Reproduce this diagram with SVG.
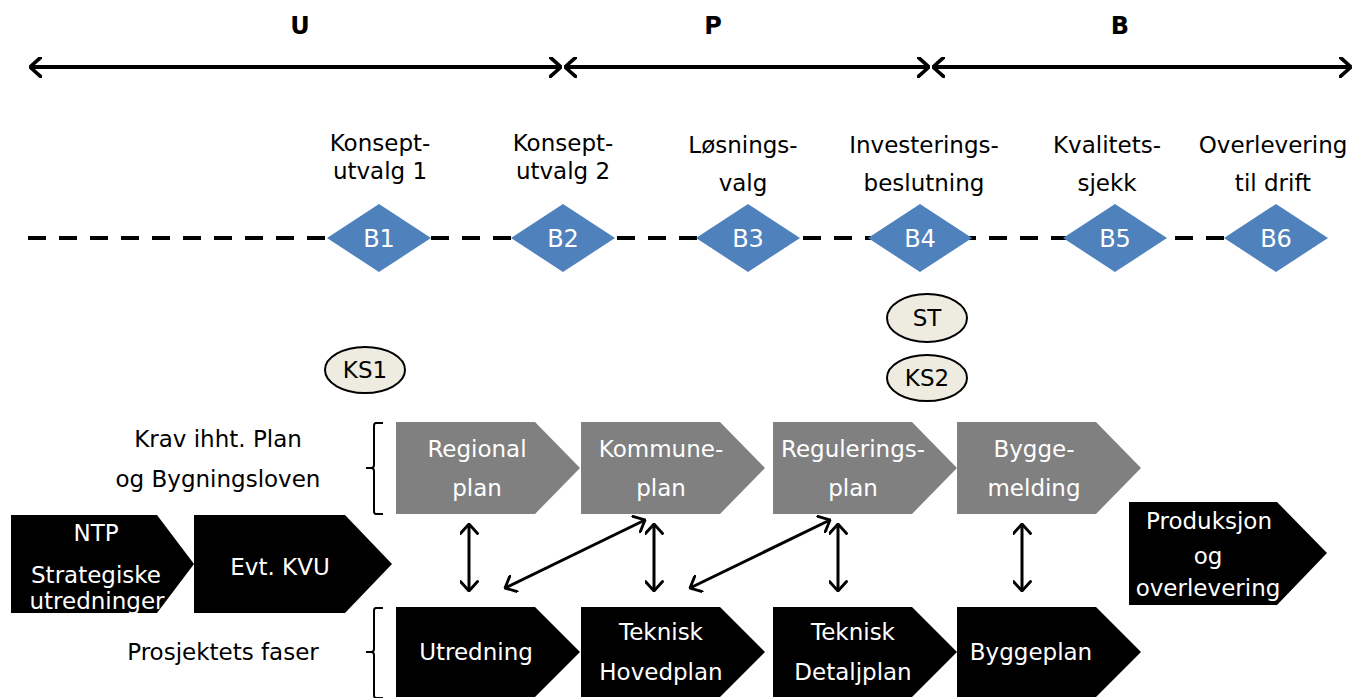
<svg xmlns="http://www.w3.org/2000/svg" width="1363" height="698" viewBox="0 0 1363 698">
<style>
text{font-family:"DejaVu Sans","Verdana",sans-serif;font-size:23px;text-anchor:middle}
.w{fill:#fff}
.k{fill:#000}
.bold{font-weight:bold;font-size:24px}
.bt{font-size:24px;fill:#fff}
.dia{fill:#4F81BD}
.gray{fill:#808080}
.blk{fill:#000}
.ell{fill:#EEECE1;stroke:#000;stroke-width:2}
.ph{stroke:#000;stroke-width:4;fill:none}
.con{stroke:#000;stroke-width:3;fill:none}
.brace{stroke:#000;stroke-width:2;fill:none}
</style>
<defs>
<marker id="ah" viewBox="0 0 12 20" refX="11" refY="10" markerWidth="13" markerHeight="21" markerUnits="userSpaceOnUse" orient="auto-start-reverse">
<path d="M1,1 L11,10 L1,19" fill="none" stroke="#000" stroke-width="3.5" stroke-linecap="round" stroke-linejoin="miter"/>
</marker>
<marker id="ah2" viewBox="0 0 12 20" refX="11" refY="10" markerWidth="12" markerHeight="19" markerUnits="userSpaceOnUse" orient="auto-start-reverse">
<path d="M1,1 L11,10 L1,19" fill="none" stroke="#000" stroke-width="3" stroke-linecap="round"/>
</marker>
</defs>

<g id="phases">
<text class="bold" x="300" y="34">U</text>
<text class="bold" x="713" y="34">P</text>
<text class="bold" x="1120" y="34">B</text>
<line class="ph" x1="30" y1="67" x2="561" y2="67" marker-start="url(#ah)" marker-end="url(#ah)"/>
<line class="ph" x1="565" y1="67" x2="929" y2="67" marker-start="url(#ah)" marker-end="url(#ah)"/>
<line class="ph" x1="933" y1="67" x2="1351" y2="67" marker-start="url(#ah)" marker-end="url(#ah)"/>
</g>

<g id="timeline">
<line x1="28" y1="238" x2="1232" y2="238" stroke="#000" stroke-width="4" stroke-dasharray="18 13"/>
</g>

<g id="B1"><path class="dia" d="M379,204 L431,238 L379,272 L327,238 Z"/><text class="bt" x="379" y="247">B1</text>
<text class="k" x="380" y="151">Konsept-</text><text class="k" x="380" y="179">utvalg 1</text></g>
<g id="B2"><path class="dia" d="M563,204 L615,238 L563,272 L511,238 Z"/><text class="bt" x="563" y="247">B2</text>
<text class="k" x="563" y="151">Konsept-</text><text class="k" x="563" y="179">utvalg 2</text></g>
<g id="B3"><path class="dia" d="M748,204 L800,238 L748,272 L696,238 Z"/><text class="bt" x="748" y="247">B3</text>
<text class="k" x="743" y="153">Løsnings-</text><text class="k" x="743" y="191">valg</text></g>
<g id="B4"><path class="dia" d="M920,204 L972,238 L920,272 L868,238 Z"/><text class="bt" x="920" y="247">B4</text>
<text class="k" x="924" y="153">Investerings-</text><text class="k" x="924" y="191">beslutning</text></g>
<g id="B5"><path class="dia" d="M1115,204 L1167,238 L1115,272 L1063,238 Z"/><text class="bt" x="1115" y="247">B5</text>
<text class="k" x="1107" y="153">Kvalitets-</text><text class="k" x="1107" y="191">sjekk</text></g>
<g id="B6"><path class="dia" d="M1276,204 L1328,238 L1276,272 L1224,238 Z"/><text class="bt" x="1276" y="247">B6</text>
<text class="k" x="1273" y="153">Overlevering</text><text class="k" x="1273" y="191">til drift</text></g>

<g id="ST"><ellipse class="ell" cx="927" cy="318" rx="40" ry="24"/><text class="k" x="927" y="326">ST</text></g>
<g id="KS2"><ellipse class="ell" cx="927" cy="378" rx="40" ry="23"/><text class="k" x="927" y="386">KS2</text></g>
<g id="KS1"><ellipse class="ell" cx="365" cy="370" rx="40" ry="23"/><text class="k" x="365" y="378">KS1</text></g>

<g id="label-krav">
<text class="k" x="218" y="447">Krav ihht. Plan</text>
<text class="k" x="218" y="487">og Bygningsloven</text>
<path class="brace" d="M383,423 H376 Q374,423 374,426 V465 Q374,468 371,468 H366 M371,468 Q374,468 374,471 V511 Q374,514 376,514 H383"/>
</g>
<g id="label-faser">
<text class="k" x="223" y="660">Prosjektets faser</text>
<path class="brace" d="M383,608 H376 Q374,608 374,611 V649 Q374,652 371,652 H366 M371,652 Q374,652 374,655 V695 Q374,698 376,698 H383"/>
</g>

<g id="regional"><path class="gray" d="M396,422 H535 L580,468 L535,514 H396 Z"/><text class="w" x="477" y="457">Regional</text><text class="w" x="477" y="496">plan</text></g>
<g id="kommune"><path class="gray" d="M581,422 H720 L765,468 L720,514 H581 Z"/><text class="w" x="661" y="457">Kommune-</text><text class="w" x="661" y="496">plan</text></g>
<g id="regulering"><path class="gray" d="M773,422 H912 L957,468 L912,514 H773 Z"/><text class="w" x="853" y="457">Regulerings-</text><text class="w" x="853" y="496">plan</text></g>
<g id="byggemelding"><path class="gray" d="M957,422 H1096 L1141,468 L1096,514 H957 Z"/><text class="w" x="1034" y="457">Bygge-</text><text class="w" x="1034" y="496">melding</text></g>

<g id="utredning"><path class="blk" d="M396,607 H535 L580,652 L535,697 H396 Z"/><text class="w" x="476" y="660">Utredning</text></g>
<g id="hovedplan"><path class="blk" d="M581,607 H720 L765,652 L720,697 H581 Z"/><text class="w" x="661" y="640">Teknisk</text><text class="w" x="661" y="680">Hovedplan</text></g>
<g id="detaljplan"><path class="blk" d="M773,607 H912 L957,652 L912,697 H773 Z"/><text class="w" x="853" y="640">Teknisk</text><text class="w" x="853" y="680">Detaljplan</text></g>
<g id="byggeplan"><path class="blk" d="M957,607 H1096 L1141,652 L1096,697 H957 Z"/><text class="w" x="1031" y="660">Byggeplan</text></g>

<g id="ntp"><path class="blk" d="M11,515 H157 L194,564 L157,613 H11 Z"/><text class="w" x="96" y="541">NTP</text><text class="w" x="96" y="583">Strategiske</text><text class="w" x="97" y="609">utredninger</text></g>
<g id="kvu"><path class="blk" d="M194,515 H345 L392,564 L345,613 H194 Z"/><text class="w" x="280" y="575">Evt. KVU</text></g>
<g id="produksjon"><path class="blk" d="M1129,502 H1277 L1327,553 L1277,605 H1129 Z"/><text class="w" x="1209" y="529">Produksjon</text><text class="w" x="1208" y="564">og</text><text class="w" x="1208" y="596">overlevering</text></g>

<g id="connectors">
<line class="con" x1="469" y1="524" x2="469" y2="591" marker-start="url(#ah2)" marker-end="url(#ah2)"/>
<line class="con" x1="654" y1="524" x2="654" y2="591" marker-start="url(#ah2)" marker-end="url(#ah2)"/>
<line class="con" x1="838" y1="524" x2="838" y2="591" marker-start="url(#ah2)" marker-end="url(#ah2)"/>
<line class="con" x1="1022" y1="524" x2="1022" y2="591" marker-start="url(#ah2)" marker-end="url(#ah2)"/>
<line class="con" x1="505" y1="588" x2="645" y2="520" marker-start="url(#ah2)" marker-end="url(#ah2)"/>
<line class="con" x1="690" y1="588" x2="830" y2="520" marker-start="url(#ah2)" marker-end="url(#ah2)"/>
</g>
</svg>
